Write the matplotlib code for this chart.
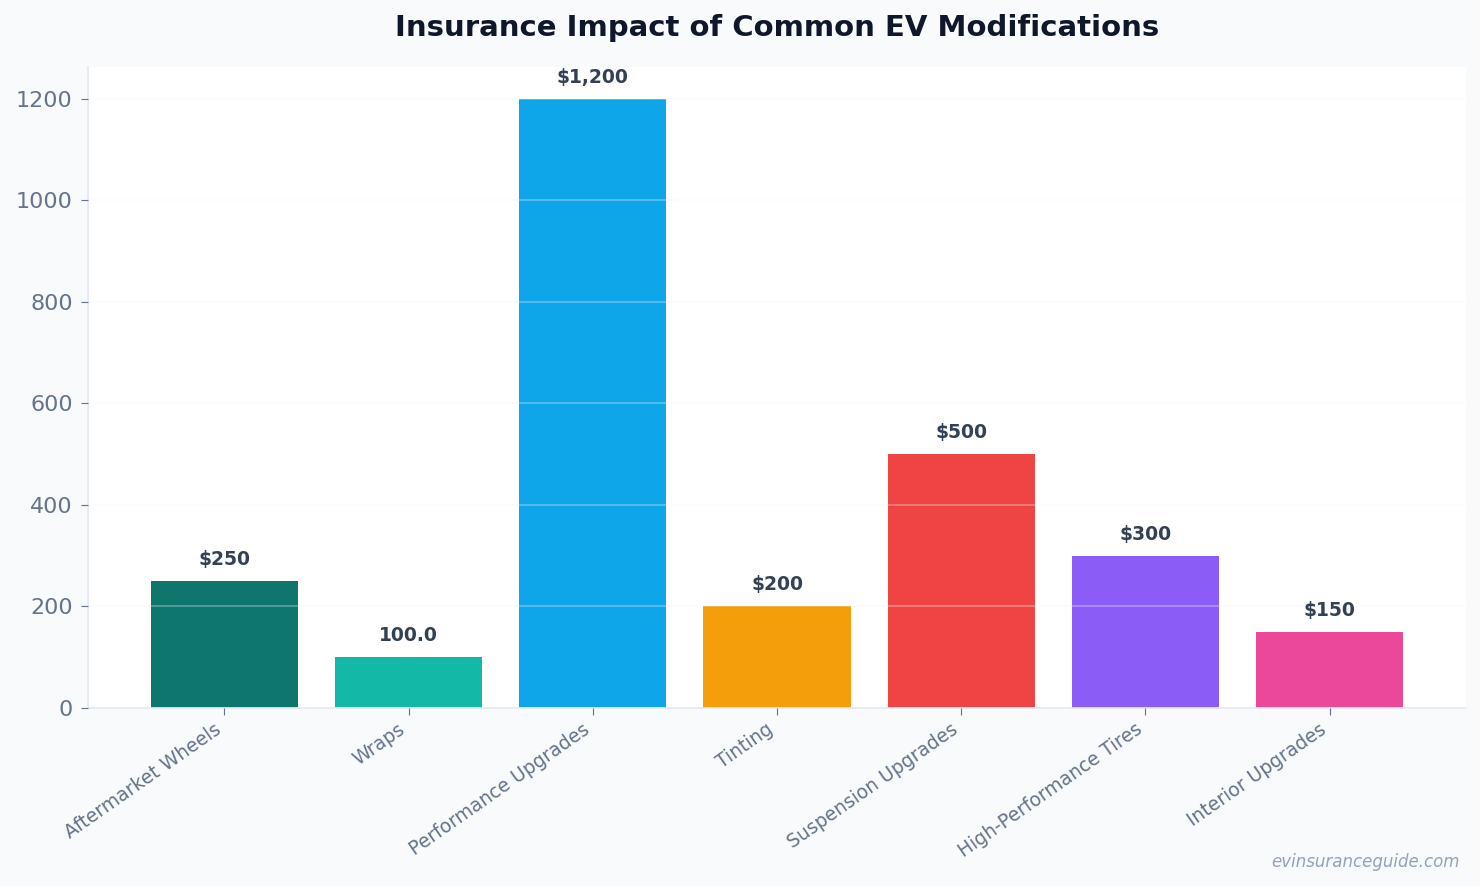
import matplotlib
matplotlib.use("Agg")
import matplotlib.pyplot as plt

categories = ["Aftermarket Wheels", "Wraps", "Performance Upgrades", "Tinting",
              "Suspension Upgrades", "High-Performance Tires", "Interior Upgrades"]
values = [250, 100, 1200, 200, 500, 300, 150]
value_labels = ["$250", "100.0", "$1,200", "$200", "$500", "$300", "$150"]
colors = ["#0f766e", "#14b8a6", "#0ea5e9", "#f59e0b", "#ef4444", "#8b5cf6", "#ec4899"]

fig = plt.figure(figsize=(14.8, 8.86), dpi=100, facecolor="#f8fafc")
ax = fig.add_axes([0.0595, 0.2009, 0.931, 0.7235])
ax.set_facecolor("white")

x = list(range(len(categories)))
ax.bar(x, values, width=0.8, color=colors, zorder=2)
ax.set_ylim(0, 1263)

ax.yaxis.grid(True, color="#f1f5f9", linewidth=1.2, alpha=0.35, zorder=3)
ax.set_axisbelow(False)
ax.xaxis.grid(False)

for xi, v, lab in zip(x, values, value_labels):
    ax.text(xi, v + 0.02 * max(values), lab, ha="center", va="bottom",
            fontsize=13.5, fontweight="bold", color="#334155", zorder=4)

ax.set_xticks(x)
ax.set_xticklabels(categories, rotation=35, ha="right", fontsize=13.5, color="#64748b")
ax.tick_params(axis="y", labelsize=16, labelcolor="#64748b", color="#64748b", length=5, pad=6)
ax.tick_params(axis="x", color="#64748b", length=5)

for s in ["top", "right"]:
    ax.spines[s].set_visible(False)
for s in ["left", "bottom"]:
    ax.spines[s].set_color("#e2e8f0")
    ax.spines[s].set_linewidth(1.2)

ax_center = 0.0595 + 0.931 / 2
fig.text(ax_center, 0.968, "Insurance Impact of Common EV Modifications", ha="center", va="center",
         fontsize=21, fontweight="bold", color="#0f172a")
fig.text(0.986, 0.027, "evinsuranceguide.com", ha="right", va="center",
         fontsize=12, style="italic", color="#94a3b8")

fig.savefig("out.png", dpi=100, facecolor=fig.get_facecolor())
